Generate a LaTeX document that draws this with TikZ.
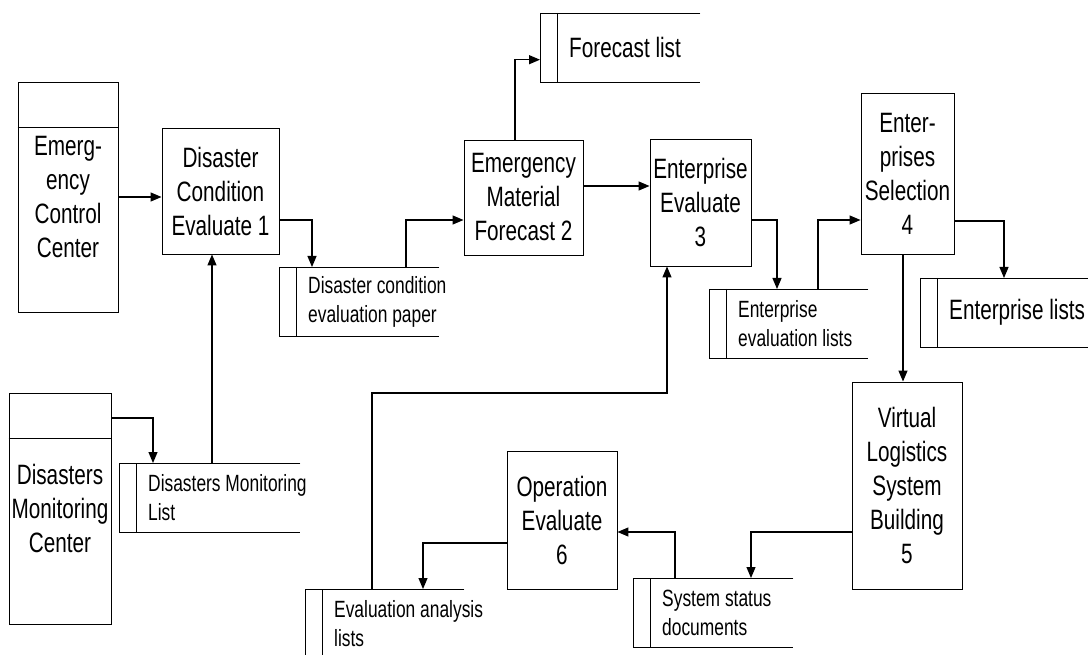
\documentclass[tikz,border=0pt]{standalone}
\usepackage{fontspec}
\setmainfont{Liberation Sans}[FakeStretch=0.74]
\usetikzlibrary{arrows.meta}

\begin{document}
\begin{tikzpicture}[x=1pt, y=-1pt,
  proc/.style={draw, line width=0.9pt, inner sep=2pt, align=center,
    font=\fontsize{28}{34}\selectfont},
  entity/.style={proc, append after command={
    ([yshift=-46pt]\tikzlastnode.north west) edge[line width=0.9pt]
    ([yshift=-46pt]\tikzlastnode.north east)}},
  store/.style={anchor=north west, inner sep=0pt, minimum height=69pt,
    append after command={
      (\tikzlastnode.north east) edge[line width=0.9pt] (\tikzlastnode.north west)
      (\tikzlastnode.north west) edge[line width=0.9pt] (\tikzlastnode.south west)
      (\tikzlastnode.south west) edge[line width=0.9pt] (\tikzlastnode.south east)
      ([xshift=17pt]\tikzlastnode.north west) edge[line width=0.9pt]
      ([xshift=17pt]\tikzlastnode.south west)}},
  stxt/.style={anchor=west, xshift=29pt, inner sep=0pt, align=left,
    font=\fontsize{23.5}{29}\selectfont},
  bigtxt/.style={stxt, font=\fontsize{28}{34}\selectfont},
  flow/.style={line width=1.2pt, -{Triangle[length=11pt,width=9pt]}}]
  \useasboundingbox (0,0) rectangle (1088,655);
  \clip (0,0) rectangle (1088,655);

  % --- external entities -------------------------------------------------
  \node[entity, minimum width=100pt, minimum height=230pt] (ecc) at (68,197)
       {Emerg-\\ency\\Control\\Center};
  \node[entity, minimum width=102pt, minimum height=231pt] (dmc) at (60,508.5)
       {Disasters\\Monitoring\\Center};

  % --- processes ---------------------------------------------------------
  \node[proc, minimum width=117pt, minimum height=126pt] (p1) at (220.5,191)
       {Disaster\\Condition\\Evaluate 1};
  \node[proc, minimum width=119pt, minimum height=115pt] (p2) at (523.5,197.5)
       {Emergency\\Material\\Forecast 2};
  \node[proc, minimum width=101pt, minimum height=127pt] (p3) at (700.5,202.5)
       {Enterprise\\Evaluate\\3};
  \node[proc, minimum width=93pt, minimum height=161pt] (p4) at (907.5,173.5)
       {Enter-\\prises\\Selection\\4};
  \node[proc, minimum width=110pt, minimum height=207pt] (p5) at (907,485.5)
       {Virtual\\Logistics\\System\\Building\\5};
  \node[proc, minimum width=110pt, minimum height=138pt] (p6) at (562,520)
       {Operation\\Evaluate\\6};

  % --- data stores -------------------------------------------------------
  \node[store, minimum width=160pt, label={[bigtxt]west:Forecast list}] (fl) at (540,13) {};
  \node[store, minimum width=160pt,
        label={[stxt]west:{Disaster condition\\evaluation paper}}] (dcep) at (279,267) {};
  \node[store, minimum width=159pt,
        label={[stxt]west:{Enterprise\\evaluation lists}}] (eel) at (709,289) {};
  \node[store, minimum width=180pt, label={[bigtxt]west:Enterprise lists}] (el) at (920,278) {};
  \node[store, minimum width=181pt,
        label={[stxt]west:{Disasters Monitoring\\List}}] (dml) at (119,463) {};
  \node[store, minimum width=160pt,
        label={[stxt]west:{System status\\documents}}] (ssd) at (633,578) {};
  \node[store, minimum width=159pt,
        label={[stxt]west:{Evaluation analysis\\lists}}] (eal) at (305,589) {};

  % --- flows -------------------------------------------------------------
  \draw[flow] (ecc.east) -- (ecc.east -| p1.west);
  \draw[flow] ([yshift=-29pt]p1.east) -| ([xshift=33pt]dcep.north west);
  \draw[flow] ([xshift=127pt]dcep.north west) |- ([yshift=-22.5pt]p2.west);
  \draw[flow] ([xshift=-8.5pt]p2.north) |- ([yshift=-12pt]fl.west);
  \coordinate (a5) at ([yshift=11.5pt]p2.east);
  \draw[flow] (a5) -- (a5 -| p3.west);
  \draw[flow] ([yshift=-17.5pt]p3.east) -| ([xshift=68pt]eel.north west);
  \draw[flow] ([xshift=109pt]eel.north west) |- ([yshift=-46.5pt]p4.west);
  \draw[flow] ([yshift=-47.5pt]p4.east) -| ([xshift=84pt]el.north west);
  \coordinate (a9) at ([xshift=-4.5pt]p4.south);
  \draw[flow] (a9) -- (a9 |- p5.north);
  \draw[flow] ([yshift=-46.5pt]p5.west) -| ([xshift=118pt]ssd.north west);
  \draw[flow] ([xshift=42pt]ssd.north west) |- ([yshift=-12pt]p6.east);
  \draw[flow] ([yshift=-23pt]p6.west) -| ([xshift=118pt]eal.north west);
  \draw[flow] ([xshift=67pt]eal.north west) -- ++(0,-196) -| ([xshift=-33.5pt]p3.south);
  \draw[flow] ([yshift=90.5pt]dmc.east) -| ([xshift=34pt]dml.north west);
  \draw[flow] ([xshift=93pt]dml.north west) -- ([xshift=-8.5pt]p1.south);
\end{tikzpicture}
\end{document}
